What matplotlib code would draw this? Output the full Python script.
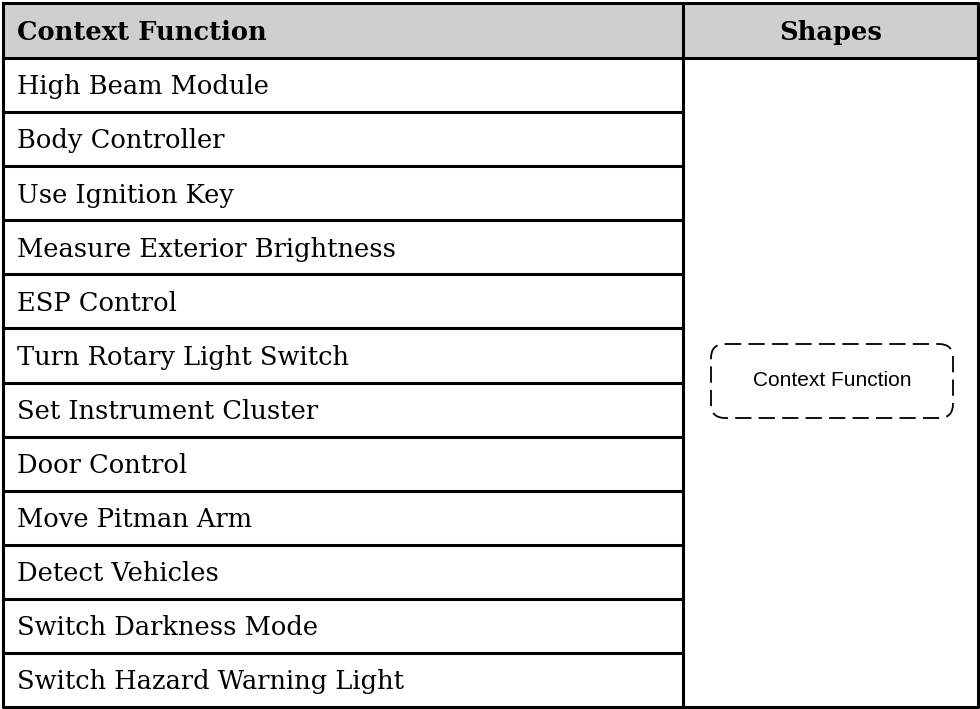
import matplotlib.pyplot as plt
from matplotlib.patches import Rectangle, FancyBboxPatch

headers = ["Context Function", "Shapes"]
rows = ["High Beam Module", "Body Controller", "Use Ignition Key",
        "Measure Exterior Brightness", "ESP Control", "Turn Rotary Light Switch",
        "Set Instrument Cluster", "Door Control", "Move Pitman Arm",
        "Detect Vehicles", "Switch Darkness Mode", "Switch Hazard Warning Light"]
shape_label = "Context Function"

W, H = 980, 709
fig = plt.figure(figsize=(9.8, 7.09), dpi=100)
ax = fig.add_axes([0, 0, 1, 1])
ax.set_xlim(0, W)
ax.set_ylim(H, 0)
ax.axis("off")

left, right, top, bottom = 3, 978, 3, 707
col = 683
head_h = 55
row_h = (bottom - top - head_h) / len(rows)
lw = 2.2
serif = "DejaVu Serif"
fs = 18.5
cap = fs * 100 / 72 * 0.729  # cap height in px

# header
ax.add_patch(Rectangle((left, top), right - left, head_h, facecolor="#d0cece", edgecolor="none"))
ax.text(left + 14, top + head_h / 2 + cap / 2, headers[0], fontsize=fs, fontweight="bold",
        family=serif, va="baseline", ha="left")
ax.text((col + right) / 2, top + head_h / 2 + cap / 2, headers[1], fontsize=fs, fontweight="bold",
        family=serif, va="baseline", ha="center")

# rows
for i, r in enumerate(rows):
    y0 = top + head_h + i * row_h
    ax.text(left + 14, y0 + row_h / 2 + cap / 2, r, fontsize=fs, family=serif,
            va="baseline", ha="left")
    ax.plot([left, col], [y0, y0], color="black", lw=lw, solid_capstyle="projecting")

# outer border + column line
ax.plot([left, right, right, left, left], [top, top, bottom, bottom, top], color="black", lw=lw)
ax.plot([col, col], [top, bottom], color="black", lw=lw)
ax.plot([col, right], [top + head_h, top + head_h], color="black", lw=lw)

# dashed rounded shape
bx, by, bw, bh = 711, 344, 242, 74
ax.add_patch(FancyBboxPatch((bx, by), bw, bh, boxstyle="round,pad=0,rounding_size=14",
                            facecolor="white", edgecolor="black", lw=1.3, linestyle=(0, (9, 4))))
ax.text(bx + bw / 2, by + bh / 2, shape_label, fontsize=15, family="Liberation Sans",
        va="center", ha="center")

fig.savefig("out.png", dpi=100)
